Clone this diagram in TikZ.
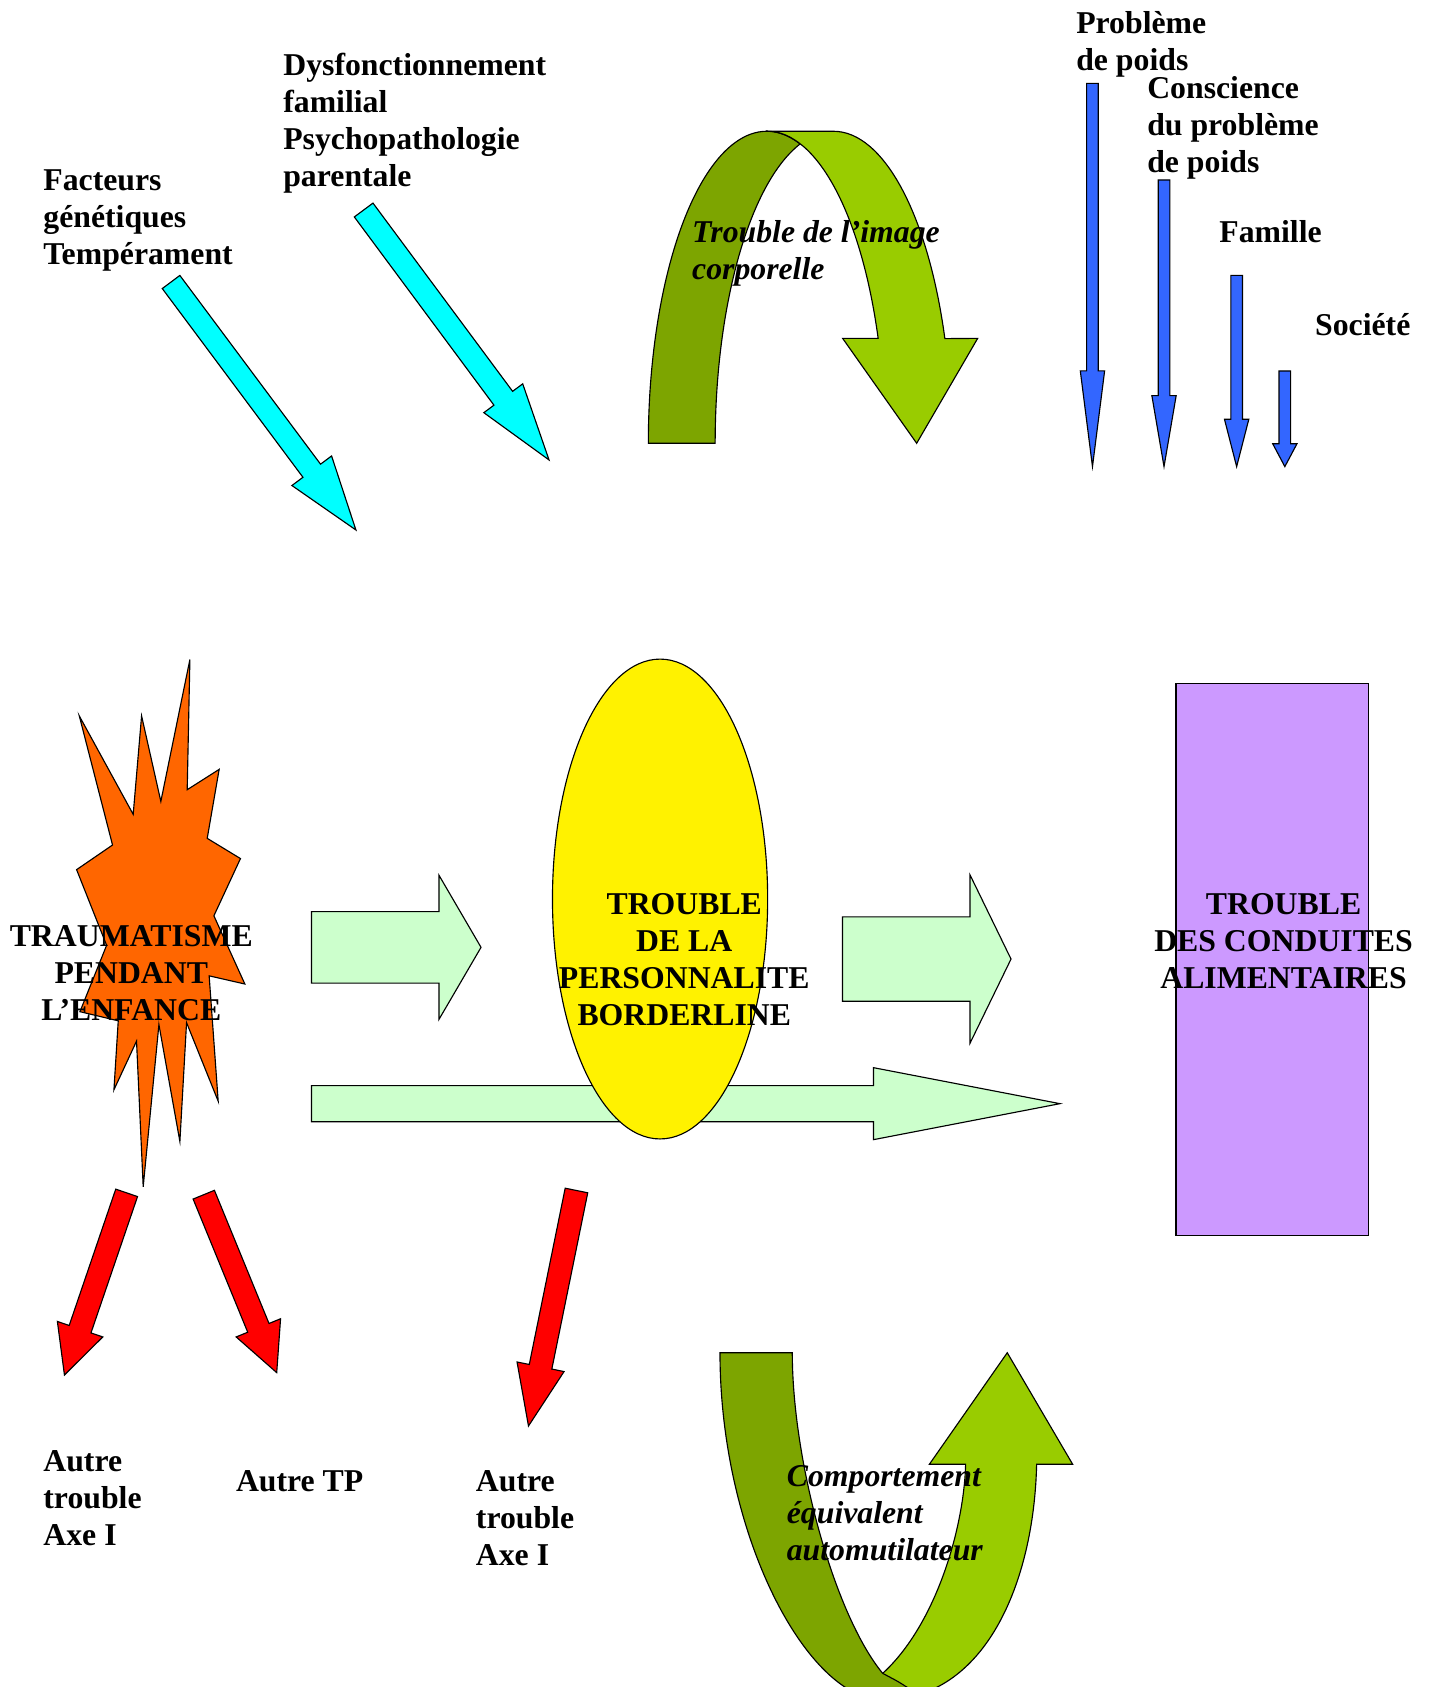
\documentclass[tikz,border=0pt]{standalone}
\usepackage{fontspec}
\setmainfont{Liberation Serif}
\usetikzlibrary{calc}

\definecolor{burst}{HTML}{FF6600}
\definecolor{aqua}{HTML}{00FFFF}
\definecolor{bluearr}{HTML}{3366FF}
\definecolor{paleg}{HTML}{CCFFCC}
\definecolor{lilac}{HTML}{CC99FF}
\definecolor{olivedark}{RGB}{125,165,0}
\definecolor{olivelight}{HTML}{99CC00}

% style, tail, tip, half shaft, half head, head length
\newcommand{\blockarrow}[6]{%
  \path ($(#3)!#6!(#2)$) coordinate (ba);
  \draw[#1] ($(#2)!#4!90:(#3)$) -- ($(ba)!#4!90:(#3)$) -- ($(ba)!#5!90:(#3)$) -- (#3)
    -- ($(ba)!#5!-90:(#3)$) -- ($(ba)!#4!-90:(#3)$) -- ($(#2)!#4!-90:(#3)$) -- cycle;
}

\begin{document}
\begin{tikzpicture}[x=0.02cm, y=-0.02cm,
  outl/.style={draw=black, line width=0.6pt},
  txt/.style={inner sep=0pt, font=\fontsize{16.8}{19.6}\selectfont\bfseries, align=left, anchor=north west},
  txtc/.style={txt, align=center, anchor=north},
  txti/.style={txt, font=\fontsize{16.8}{19.6}\selectfont\bfseries\itshape},
  ell/.style={x radius=110, y radius=290}]

\useasboundingbox (0,0) rectangle (1331,1568);
\clip (0,0) rectangle (1331,1568);

\coordinate (gen-s) at (159,262.1);   \coordinate (gen-e) at (330.8,492.6);
\coordinate (fam-s) at (338,195.2);   \coordinate (fam-e) at (510.3,427.5);
\blockarrow{outl, fill=aqua}{gen-s}{gen-e}{0.204cm}{0.46cm}{1.374cm}
\blockarrow{outl, fill=aqua}{fam-s}{fam-e}{0.216cm}{0.45cm}{1.428cm}

\coordinate (pb-s) at (1015.4,77.5);   \coordinate (pb-e) at (1015.4,433.7);
\coordinate (cs-s) at (1081.9,167.3);  \coordinate (cs-e) at (1081.9,433.7);
\coordinate (fm-s) at (1149.4,255.9);  \coordinate (fm-e) at (1149.4,433.7);
\coordinate (so-s) at (1194.2,344.8);  \coordinate (so-e) at (1194.2,433.7);
\blockarrow{outl, fill=bluearr}{pb-s}{pb-e}{0.108cm}{0.226cm}{1.78cm}
\blockarrow{outl, fill=bluearr}{cs-s}{cs-e}{0.108cm}{0.226cm}{1.32cm}
\blockarrow{outl, fill=bluearr}{fm-s}{fm-e}{0.108cm}{0.226cm}{0.88cm}
\blockarrow{outl, fill=bluearr}{so-s}{so-e}{0.108cm}{0.226cm}{0.426cm}

\draw[outl, fill=olivedark] (602.6,412) arc[start angle=180, end angle=286.4, ell]
  arc[start angle=253.6, end angle=180, ell] -- cycle;
\draw[outl, fill=olivelight] (712.6,122) -- (774.6,122)
  arc[start angle=270, end angle=340.4, ell]
  -- (908.7,314.5) -- (852,412) -- (783.2,314.5) -- (816.2,314.5)
  arc[start angle=340.4, end angle=270, ell] -- cycle;

\coordinate (lg-s) at (289.5,1025.8);  \coordinate (lg-e) at (985.2,1025.8);
\blockarrow{outl, fill=paleg}{lg-s}{lg-e}{0.335cm}{0.669cm}{3.466cm}
\draw[outl, fill=yellow] (613.5,835.6) ellipse [x radius=100, y radius=223];
\coordinate (in-s) at (289.5,880.5);   \coordinate (in-e) at (447.1,880.5);
\coordinate (out-s) at (783.1,891.4);  \coordinate (out-e) at (939.7,891.4);
\blockarrow{outl, fill=paleg}{in-s}{in-e}{0.665cm}{1.34cm}{0.782cm}
\blockarrow{outl, fill=paleg}{out-s}{out-e}{0.784cm}{1.564cm}{0.762cm}

\draw[outl, fill=burst] (176.5,613) -- (174,734) -- (203.7,715.1) -- (192.6,779.2) -- (223.5,798)
  -- (198.8,851.2) -- (227.6,914.6) -- (194.4,907) -- (202.8,1023.5) -- (173.4,950.5)
  -- (167.2,1061) -- (147.7,952.3) -- (133.1,1103) -- (126.9,967.7) -- (105.9,1012.9)
  -- (109.9,948.8) -- (74.3,940.3) -- (99.1,878.6) -- (71.2,808.3) -- (104.6,785.4)
  -- (73.7,665.4) -- (123.8,756.9) -- (131.6,665.4) -- (149.5,744.9) -- cycle;

\draw[outl, fill=lilac] (1093,635) rectangle (1272,1148);

\coordinate (r1-s) at (117.7,1108.7);  \coordinate (r1-e) at (59.9,1278);
\coordinate (r2-s) at (189.4,1110.4);  \coordinate (r2-e) at (257.2,1275.8);
\coordinate (r3-s) at (535.8,1106.5);  \coordinate (r3-e) at (491.2,1325.4);
\blockarrow{outl, fill=red}{r1-s}{r1-e}{0.214cm}{0.446cm}{0.9cm}
\blockarrow{outl, fill=red}{r2-s}{r2-e}{0.214cm}{0.446cm}{0.9cm}
\blockarrow{outl, fill=red}{r3-s}{r3-e}{0.214cm}{0.446cm}{1.124cm}

\draw[outl, fill=olivelight] (820.4,1555.3) .. controls (870,1510) and (896,1420) .. (897.5,1361)
  -- (863.8,1361) -- (936.2,1257.3) -- (997,1361) -- (963.5,1361)
  .. controls (961,1471) and (915.6,1580) .. (820.6,1580) -- cycle;
\draw[outl, fill=olivedark] (669.2,1257.3) .. controls (669.2,1427.3) and (750.6,1580) .. (820.6,1580)
  -- (865,1580) -- (842.7,1568) .. controls (835,1563) .. (820.4,1555.3)
  .. controls (775,1500) and (736.4,1357.3) .. (736.4,1257.3) -- cycle;

\node[txt] (facteurs) at (40,157) {Facteurs\\génétiques\\Tempérament};
\node[txt] (dysf) at (263,49) {Dysfonctionnement\\familial\\Psychopathologie\\parentale};
\node[txti] (image) at (643,204.6) {Trouble de l’image\\corporelle};
\node[txt] (poids) at (1000,10) {Problème\\de poids};
\node[txt] (conscience) at (1066,70.5) {Conscience\\du problème\\de poids};
\node[txt] (famille) at (1133,204.6) {Famille};
\node[txt] (societe) at (1222,290.7) {Société};
\node[txtc] (trauma) at (122,859.7) {TRAUMATISME\\PENDANT\\L’ENFANCE};
\node[txtc] (borderline) at (636,830) {TROUBLE\\DE LA\\PERSONNALITE\\BORDERLINE};
\node[txtc] (tca) at (1193,830) {TROUBLE\\DES CONDUITES\\ALIMENTAIRES};
\node[txt] (axe1) at (40,1348.2) {Autre\\trouble\\Axe I};
\node[txt] (autretp) at (219,1366.8) {Autre TP};
\node[txt] (axe2) at (442,1366.8) {Autre\\trouble\\Axe I};
\node[txti] (comport) at (731,1361.8) {Comportement\\équivalent\\automutilateur};

\end{tikzpicture}
\end{document}
